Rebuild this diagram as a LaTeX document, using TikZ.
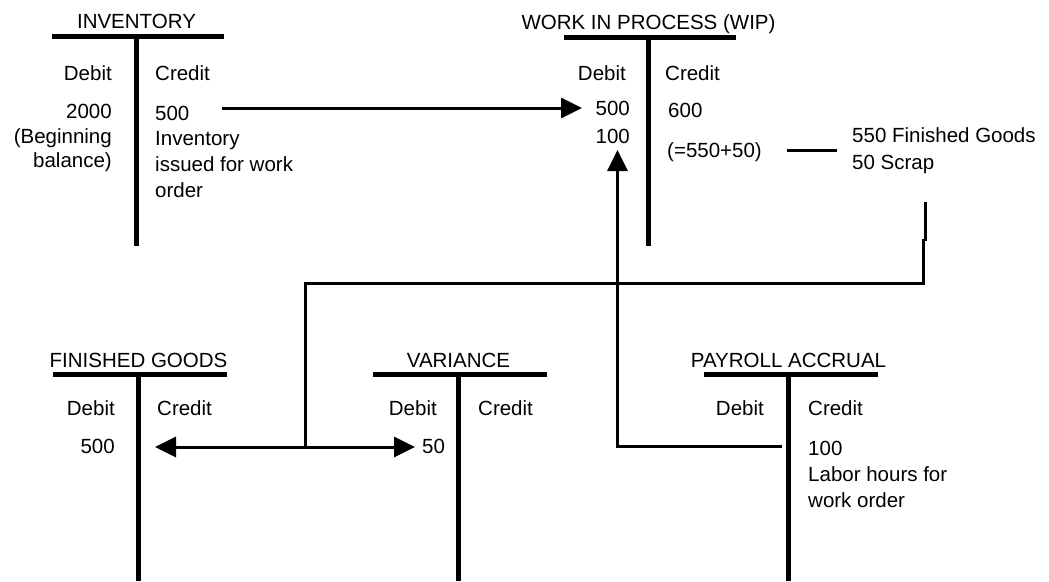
\documentclass[tikz,border=0pt]{standalone}
\usepackage{fontspec}
\setmainfont{Liberation Sans}
\usetikzlibrary{arrows.meta}
\begin{document}
\begin{tikzpicture}[x=1pt,y=-1pt,
  txt/.style={inner sep=0pt, font=\fontsize{20.5}{24}\selectfont},
  lt/.style={txt, anchor=base east},
  rt/.style={txt, anchor=base west},
  ttl/.style={txt, anchor=base},
  tbar/.style={line width=5pt},
  conn/.style={line width=3pt},
  arr/.style={conn, -{Triangle[length=21pt,width=20pt]}}]
\useasboundingbox (0,0) rectangle (1049,581);

% ---------- INVENTORY ----------
\node[ttl] (invT) at (136.5,28) {INVENTORY};
\draw[tbar] (52,36.5) -- (224,36.5);
\draw[tbar] (136.5,36.5) -- (136.5,246);
\node[lt] (invD) at (112,80) {Debit};
\node[rt] (invC) at (155,80) {Credit};
\node[lt] (invD1) at (112,118) {2000};
\node[lt] (invD2) at (112,143) {(Beginning};
\node[lt] (invD3) at (112,167) {balance)};
\node[rt] (invC1) at (155,120) {500};
\node[rt] (invC2) at (155,145) {Inventory};
\node[rt] (invC3) at (155,171) {issued for work};
\node[rt] (invC4) at (155,197) {order};

% ---------- WIP ----------
\node[ttl] (wipT) at (648.5,29) {WORK IN PROCESS (WIP)};
\draw[tbar] (564,37) -- (736,37);
\draw[tbar] (648.5,37) -- (648.5,246);
\node[lt] (wipD) at (626,80) {Debit};
\node[rt] (wipC) at (665,80) {Credit};
\node[lt] (wipD1) at (630,115) {500};
\node[lt] (wipD2) at (630,143) {100};
\node[rt] (wipC1) at (668,117) {600};
\node[rt] (wipC2) at (667,157) {(=550+50)};
\node[rt] (split1) at (852,142) {550 Finished Goods};
\node[rt] (split2) at (852,169) {50 Scrap};

% ---------- FINISHED GOODS ----------
\node[ttl] (fgT) at (138.5,367) {FINISHED GOODS};
\draw[tbar] (53,374.5) -- (227,374.5);
\draw[tbar] (138.5,374.5) -- (138.5,581);
\node[lt] (fgD) at (115,415) {Debit};
\node[rt] (fgC) at (157,415) {Credit};
\node[lt] (fgD1) at (115,453) {500};

% ---------- VARIANCE ----------
\node[ttl] (varT) at (458.5,367) {VARIANCE};
\draw[tbar] (373,374.5) -- (547,374.5);
\draw[tbar] (458.5,374.5) -- (458.5,581);
\node[lt] (varD) at (437,415) {Debit};
\node[rt] (varC) at (478,415) {Credit};
\node[rt] (varD1) at (422,453) {50};

% ---------- PAYROLL ACCRUAL ----------
\node[ttl] (payT) at (788.5,367) {PAYROLL ACCRUAL};
\draw[tbar] (704,374.5) -- (878,374.5);
\draw[tbar] (788.5,374.5) -- (788.5,581);
\node[lt] (payD) at (764,415) {Debit};
\node[rt] (payC) at (808,415) {Credit};
\node[rt] (payC1) at (808,455) {100};
\node[rt] (payC2) at (808,481) {Labor hours for};
\node[rt] (payC3) at (808,507) {work order};

% ---------- connectors ----------
\coordinate (invOut) at (222,108);
\coordinate (wipIn) at (582,108);
\draw[arr] (invOut) -- (wipIn);

\coordinate (sumA) at (787,150);
\coordinate (sumB) at (837,150);
\draw[conn] (sumA) -- (sumB);

\coordinate (dropA) at (925,202);
\coordinate (dropB) at (925,241);
\coordinate (dropC) at (923,239);
\coordinate (corner) at (923,283);
\coordinate (splitTop) at (305,283);
\coordinate (splitPt) at (305,447);
\coordinate (fgIn) at (155,447);
\coordinate (varIn) at (415,447);
\draw[conn] (dropA) -- (dropB);
\draw[conn] (dropC) -- (corner) -- (splitTop) -- (splitPt);
\draw[arr] (splitPt) -- (fgIn);
\draw[arr] (splitPt) -- (varIn);

\coordinate (payOut) at (782,446);
\coordinate (labCorner) at (617.5,446);
\coordinate (wipIn2) at (617.5,150);
\draw[arr] (payOut) -- (labCorner) -- (wipIn2);
\end{tikzpicture}
\end{document}
